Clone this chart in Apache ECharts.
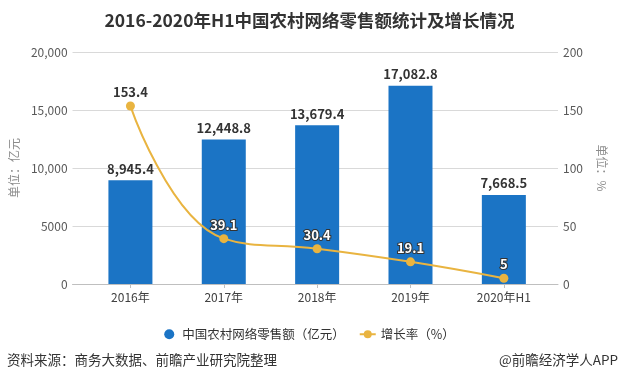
<!DOCTYPE html>
<html><head><meta charset="utf-8">
<script src="https://cdn.jsdelivr.net/npm/echarts@6/dist/echarts.min.js"></script>
<style>html,body{margin:0;padding:0;background:#fff}#c{width:619px;height:383px}</style>
</head><body><div id="c"></div>
<script>
const categories = ['2016年','2017年','2018年','2019年','2020年H1'];
const retailSales = [8945.4, 12448.8, 13679.4, 17082.8, 7668.5];
const growthRate = [153.4, 39.1, 30.4, 19.1, 5];
const leftTickLabels = ['0','5000','10,000','15,000','20,000'];
const rightTickLabels = ['0','50','100','150','200'];

const FONT = '"Noto Sans CJK SC", "Noto Sans", sans-serif';
const chart = echarts.init(document.getElementById('c'), null, {renderer:'canvas'});
const idx = categories.map((c,i)=>i);
const fmt = v => v.toLocaleString('en-US',{minimumFractionDigits:1,maximumFractionDigits:1});

chart.setOption({
  animation:false,
  textStyle:{fontFamily:FONT},
  title:{text:'2016-2020年H1中国农村网络零售额统计及增长情况', left:'center', top:7,
    textStyle:{fontSize:17.5,fontWeight:'bold',color:'#333',fontFamily:FONT}},
  legend:{left:'center', top:323, itemGap:14, itemWidth:16, itemHeight:10,
    textStyle:{fontSize:12.5,color:'#333',fontFamily:FONT},
    data:[{name:'中国农村网络零售额（亿元）',icon:'circle'},{name:'增长率（%）'}]},
  grid:{left:72, right:61, top:52, bottom:99, containLabel:false},
  xAxis:{type:'value', min:-0.62, max:4.58,
    axisLine:{show:true,lineStyle:{color:'#bfbfbf'}},
    axisTick:{show:true,length:4,lineStyle:{color:'#bfbfbf'},customValues:idx},
    axisLabel:{customValues:idx, formatter:v=>categories[Math.round(v)], color:'#404040', fontSize:12, margin:7},
    splitLine:{show:false}},
  yAxis:[
    {type:'value', min:0, max:20000, interval:5000, name:'单位：亿元', nameLocation:'middle', nameRotate:90, nameGap:52,
     nameTextStyle:{color:'#8c8c8c',fontSize:12},
     axisLine:{show:false}, axisTick:{show:false},
     axisLabel:{formatter:v=>leftTickLabels[Math.round(v/5000)], color:'#595959', fontSize:12, margin:5},
     splitLine:{lineStyle:{color:'#d9d9d9'}}},
    {type:'value', min:0, max:200, interval:50, name:'单位：%', nameLocation:'middle', nameRotate:-90, nameGap:38,
     nameTextStyle:{color:'#8c8c8c',fontSize:12},
     axisLine:{show:false}, axisTick:{show:false},
     axisLabel:{formatter:v=>rightTickLabels[Math.round(v/50)], color:'#595959', fontSize:12, margin:5},
     splitLine:{show:false}}
  ],
  series:[
    {name:'中国农村网络零售额（亿元）', type:'bar', barWidth:44, itemStyle:{color:'#1B74C5'},
     data: retailSales.map((v,i)=>[i,v]),
     label:{show:true, position:'top', distance:5, formatter:p=>fmt(p.value[1]), color:'#333', fontWeight:'bold', fontSize:13}},
    {name:'增长率（%）', type:'line', yAxisIndex:1, smooth:0.45, symbol:'circle', symbolSize:9,
     lineStyle:{color:'#E9B440', width:2}, itemStyle:{color:'#E9B440'},
     data: growthRate.map((v,i)=> i===0 ? {value:[i,v], label:{color:'#333', textBorderWidth:0}} : [i,v]),
     label:{show:true, position:'top', distance:3, formatter:p=>String(p.value[1]), color:'#fff',
       textBorderColor:'#333', textBorderWidth:2, fontWeight:'bold', fontSize:13}}
  ],
  graphic:[
    {type:'text', left:7, top:353, style:{text:'资料来源：商务大数据、前瞻产业研究院整理', fill:'#333', font:'13.5px '+FONT}},
    {type:'text', right:1, top:353, style:{text:'@前瞻经济学人APP', fill:'#333', font:'13.5px '+FONT}}
  ]
});
</script></body></html>
